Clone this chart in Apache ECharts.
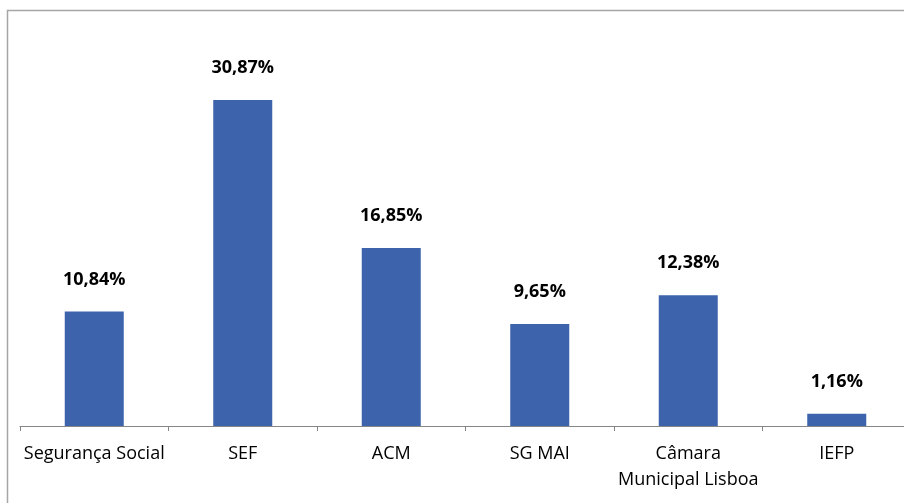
<!DOCTYPE html>
<html><head><meta charset="utf-8">
<script src="https://cdn.jsdelivr.net/npm/echarts@6/dist/echarts.min.js"></script>
<style>html,body{margin:0;padding:0;background:#fff}#c{width:904px;height:503px}</style>
</head><body><div id="c"></div>
<script>
const categories = ["Segurança Social", "SEF", "ACM", "SG MAI", "Câmara\nMunicipal Lisboa", "IEFP"];
const values = [10.84, 30.87, 16.85, 9.65, 12.38, 1.16];
const valueLabels = ["10,84%", "30,87%", "16,85%", "9,65%", "12,38%", "1,16%"];

const chart = echarts.init(document.getElementById('c'), null, {renderer: 'canvas'});
chart.setOption({
  animation: false,
  graphic: [{type: 'rect', shape: {x: 7.5, y: 10.5, width: 1000, height: 1000}, style: {fill: 'none', stroke: '#a6a6a6', lineWidth: 1.5}, silent: true}],
  grid: {left: 20, width: 891, top: 56.4, height: 369.6, containLabel: false, outerBoundsMode: 'none'},
  xAxis: {
    type: 'category', data: categories,
    axisLine: {lineStyle: {color: '#868686', width: 1}},
    axisTick: {show: true, alignWithLabel: false, length: 5, lineStyle: {color: '#868686'}},
    axisLabel: {color: '#000', fontFamily: 'Open Sans', fontSize: 18, margin: 15, lineHeight: 26, interval: 0}
  },
  yAxis: {type: 'value', min: 0, max: 35, show: false, splitLine: {show: false}},
  series: [{
    type: 'bar', data: values, barWidth: 59,
    itemStyle: {color: '#3c63ab'},
    label: {show: true, position: 'top', distance: 23, color: '#000', fontFamily: 'Open Sans', fontWeight: 'bold', fontSize: 18,
      formatter: p => valueLabels[p.dataIndex]}
  }]
});
</script></body></html>
